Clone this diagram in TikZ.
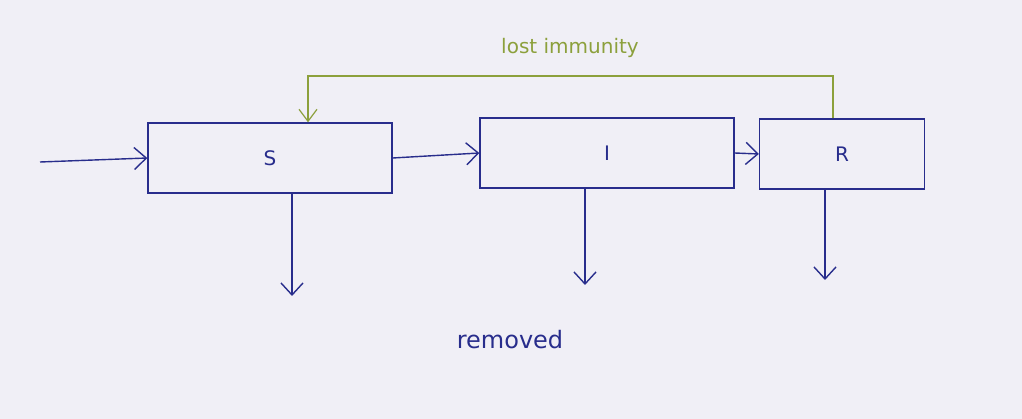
\documentclass[tikz,border=0pt]{standalone}
\usepackage{fontspec}
\setmainfont{DejaVu Sans}
\usetikzlibrary{arrows.meta}
\definecolor{paper}{RGB}{240,239,246}
\definecolor{ink}{RGB}{40,45,140}
\definecolor{greenink}{RGB}{140,160,60}
\begin{document}
\begin{tikzpicture}[x=1pt,y=-1pt,
  compbox/.style={draw=ink,line width=1.4pt,minimum height=70pt,inner sep=0pt,font=\fontsize{20}{24}\selectfont,text=ink},
  flow/.style={draw=ink,line width=1.4pt,-{Straight Barb[length=12pt,width=22pt,line width=1.4pt]}},
  back/.style={draw=greenink,line width=1.2pt,-{Straight Barb[length=12pt,width=18pt,line width=1.2pt]}}]
\fill[paper] (0,0) rectangle (1022,419);
\useasboundingbox (0,0) rectangle (1022,419);
\node[compbox,minimum width=244pt] (S) at (270,158) {S};
\node[compbox,minimum width=254pt] (I) at (607,153) {I};
\node[compbox,minimum width=165pt] (R) at (842,154) {R};
\coordinate (in) at (40,162);
\coordinate (sd) at (292,296);
\coordinate (id) at (585,285);
\coordinate (rd) at (825,280);
\draw[flow] (in) -- (S.west);
\draw[flow] (S.east) -- (I.west);
\draw[flow] (I.east) -- (R.west);
\draw[flow] (S.south -| sd) -- (sd);
\draw[flow] (I.south -| id) -- (id);
\draw[flow] (R.south -| rd) -- (rd);
\coordinate (top) at (0,76);
\draw[back] (R.north -| 833,0) -- (top -| 833,0) -- (top -| 308,0) -- (S.north -| 308,0);
\node[text=greenink,font=\fontsize{20}{24}\selectfont] (lost) at (570,48) {lost immunity};
\node[text=ink,font=\fontsize{24}{28}\selectfont] (rem) at (510,340) {removed};
\end{tikzpicture}
\end{document}
